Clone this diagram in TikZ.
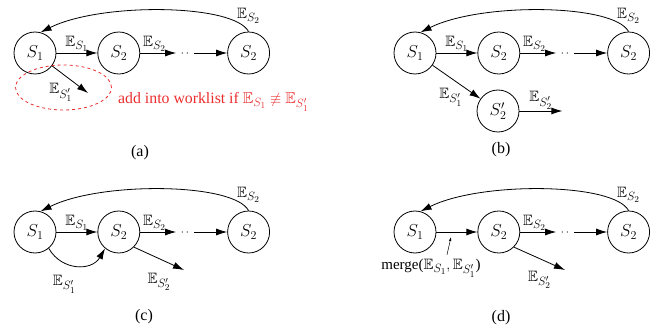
\documentclass[tikz,border=0pt]{standalone}
\usepackage{fontspec}
\setmainfont{Liberation Serif}
\usepackage{amsmath, amssymb}
\usepackage{tikz}
\usetikzlibrary{arrows.meta, positioning}
\DeclareMathSizes{15}{15}{11.5}{9}
\DeclareMathSizes{15.8}{15.8}{12}{9.5}
\DeclareMathSizes{17}{17}{13}{10}
\definecolor{hintRed}{RGB}{235,45,45}
\tikzset{
  wl/state/.style={circle, draw, minimum size=42pt, inner sep=0pt,
    line width=0.8pt, font=\fontsize{17}{19}\selectfont},
  wl/arr/.style={-{Latex[length=11pt,width=7pt]}, line width=0.8pt},
  wl/tip/.style={-{Latex[length=4pt,width=2.5pt]}, line width=0.5pt},
  wl/dots/.style={line width=1.3pt, line cap=round,
    dash pattern=on 0pt off 5pt, shorten <=6pt, shorten >=4pt},
  wl/lbl/.style={font=\fontsize{15}{17}\selectfont, inner sep=1pt},
  wl/hint/.style={text=hintRed, font=\fontsize{15.8}{18}\selectfont},
  wl/ring/.style={draw=hintRed, dashed, line width=0.8pt},
  wl/cap/.style={font=\fontsize{16}{18}\selectfont}
}

\begin{document}
\begin{tikzpicture}[x=1pt, y=1pt]
  \useasboundingbox (0,0) rectangle (667,327);

  % (a) new state is only put back into the worklist
  \begin{scope}[shift={(35,274)}]
    \node[wl/state] (a1) at (0,0) {$S_1$};
    \node[wl/state, right=41pt of a1] (a2) {$S_2$};
    \node[wl/state, right=87pt of a2] (a3) {$S_2$};
    \coordinate[right=36pt of a2] (ag1);
    \coordinate[left=33pt of a3] (ag2);
    \coordinate (ax) at (53,-40);
    \draw[wl/arr] (a1) -- node[wl/lbl, above] {$\mathbb{E}_{S_1}$} (a2);
    \draw[wl/arr] (a2) -- node[wl/lbl, above, pos=0.4] {$\mathbb{E}_{S_2}$} (ag1);
    \draw[wl/dots] (ag1) -- (ag2);
    \draw[wl/arr] (ag2) -- (a3);
    \draw[wl/arr] (a3.north) .. controls +(-15,28) and +(60,30) .. (a1.75)
          node[wl/lbl, pos=0, above=7pt] {$\mathbb{E}_{S_2}$};
    \draw[wl/arr] (a1) -- node[wl/lbl, below left, pos=0.6] {$\mathbb{E}_{S_1'}$} (ax);
    \draw[wl/ring] (28.5,-34.5) ellipse [x radius=48, y radius=22.5];
    \node[wl/hint, anchor=west, inner sep=0pt] (anote) at (83,-49)
          {add into worklist if $\mathbb{E}_{S_1} \not\equiv \mathbb{E}_{S_1'}$};
    \node[wl/cap] (acap) at (105,-100) {(a)};
  \end{scope}

  % (b) path split into a second state
  \begin{scope}[shift={(415,274)}]
    \node[wl/state] (b1) at (0,0) {$S_1$};
    \node[wl/state, right=41pt of b1] (b2) {$S_2$};
    \node[wl/state, right=87pt of b2] (b3) {$S_2$};
    \node[wl/state] (b4) at (83,-58) {$S_2'$};
    \coordinate[right=36pt of b2] (bg1);
    \coordinate[left=33pt of b3] (bg2);
    \coordinate[right=43pt of b4] (bx);
    \draw[wl/arr] (b1) -- node[wl/lbl, above] {$\mathbb{E}_{S_1}$} (b2);
    \draw[wl/arr] (b2) -- node[wl/lbl, above, pos=0.4] {$\mathbb{E}_{S_2}$} (bg1);
    \draw[wl/dots] (bg1) -- (bg2);
    \draw[wl/arr] (bg2) -- (b3);
    \draw[wl/arr] (b3.north) .. controls +(-15,28) and +(60,30) .. (b1.75)
          node[wl/lbl, pos=0, above=7pt] {$\mathbb{E}_{S_2}$};
    \draw[wl/arr] (b1) -- node[wl/lbl, below left, pos=0.65] {$\mathbb{E}_{S_1'}$} (b4);
    \draw[wl/arr] (b4) -- node[wl/lbl, above] {$\mathbb{E}_{S_2'}$} (bx);
    \node[wl/cap] (bcap) at (86,-97) {(b)};
  \end{scope}

  % (c) second edge into the same state
  \begin{scope}[shift={(35,95)}]
    \node[wl/state] (c1) at (0,0) {$S_1$};
    \node[wl/state, right=41pt of c1] (c2) {$S_2$};
    \node[wl/state, right=87pt of c2] (c3) {$S_2$};
    \coordinate[right=36pt of c2] (cg1);
    \coordinate[left=33pt of c3] (cg2);
    \coordinate (cx) at (149,-38);
    \draw[wl/arr] (c1) -- node[wl/lbl, above] {$\mathbb{E}_{S_1}$} (c2);
    \draw[wl/arr] (c2) -- node[wl/lbl, above, pos=0.4] {$\mathbb{E}_{S_2}$} (cg1);
    \draw[wl/dots] (cg1) -- (cg2);
    \draw[wl/arr] (cg2) -- (c3);
    \draw[wl/arr] (c3.north) .. controls +(-15,28) and +(60,30) .. (c1.75)
          node[wl/lbl, pos=0, above=7pt] {$\mathbb{E}_{S_2}$};
    \draw[wl/arr] (c1.-50) to[out=-60, in=-120, looseness=1.2]
          node[wl/lbl, pos=0.3, below=11pt] {$\mathbb{E}_{S_1'}$} (c2.-130);
    \draw[wl/arr] (c2.-45) -- node[wl/lbl, pos=0.5, below=13pt] {$\mathbb{E}_{S_2'}$} (cx);
    \node[wl/cap] (ccap) at (109,-85) {(c)};
  \end{scope}

  % (d) both edges merged
  \begin{scope}[shift={(415,95)}]
    \node[wl/state] (d1) at (0,0) {$S_1$};
    \node[wl/state, right=41pt of d1] (d2) {$S_2$};
    \node[wl/state, right=87pt of d2] (d3) {$S_2$};
    \coordinate[right=36pt of d2] (dg1);
    \coordinate[left=33pt of d3] (dg2);
    \coordinate (dx) at (150,-38);
    \coordinate (dm) at (36,-5);
    \node[wl/lbl] (merge) at (16,-36) {merge($\mathbb{E}_{S_1}, \mathbb{E}_{S_1'}$)};
    \draw[wl/arr] (d1) -- (d2);
    \draw[wl/arr] (d2) -- node[wl/lbl, above, pos=0.4] {$\mathbb{E}_{S_2}$} (dg1);
    \draw[wl/dots] (dg1) -- (dg2);
    \draw[wl/arr] (dg2) -- (d3);
    \draw[wl/arr] (d3.north) .. controls +(-15,28) and +(60,30) .. (d1.75)
          node[wl/lbl, pos=0, above=7pt] {$\mathbb{E}_{S_2}$};
    \draw[wl/tip] ([xshift=16pt, yshift=3pt]merge.north) -- (dm);
    \draw[wl/arr] (d2.-45) -- node[wl/lbl, pos=0.5, below=11pt] {$\mathbb{E}_{S_2'}$} (dx);
    \node[wl/cap] (dcap) at (86,-86) {(d)};
  \end{scope}
\end{tikzpicture}
\end{document}
